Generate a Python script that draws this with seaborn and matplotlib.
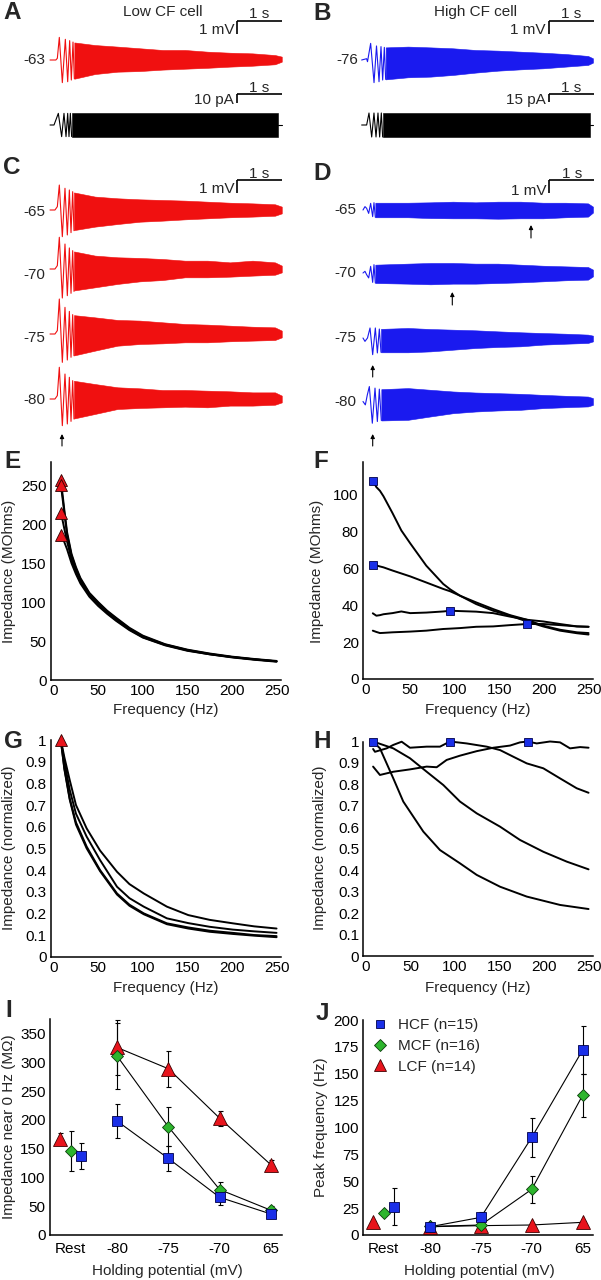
import numpy as np
import matplotlib
matplotlib.use("Agg")
import matplotlib.pyplot as plt
from matplotlib.lines import Line2D
import seaborn as sns

# ======================= DATA =======================
# ---- A / B : voltage response (s, mV) ----
A_early_t = [0, 0.13, 0.163, 0.207, 0.274, 0.341, 0.393, 0.437, 0.474, 0.511, 0.541]
A_early_v = [0, 0, 0.13, 1.74, -1.74, 1.59, -1.67, 1.49, -1.54, 1.38, -1.44]
A_env_t = [0.541, 1.0, 1.5, 2.0, 2.5, 3.0, 3.5, 4.0, 4.5, 5.0, 5.15]
A_env_hi = [1.35, 1.15, 1.03, 0.9, 0.77, 0.77, 0.64, 0.56, 0.51, 0.38, 0.26]
A_env_lo = [-1.44, -1.08, -0.9, -0.85, -0.74, -0.67, -0.6, -0.51, -0.44, -0.33, -0.13]

B_early_t = [-0.03, 0.08, 0.1, 0.17, 0.245, 0.3, 0.356, 0.4, 0.437, 0.474, 0.504]
B_early_v = [0, 0.1, -0.13, 1.28, -1.74, 1.08, -1.67, 1.03, -1.54, 0.97, -1.49]
B_env_t = [0.504, 1.0, 1.5, 2.0, 2.5, 3.0, 3.5, 4.0, 4.5, 5.0, 5.11]
B_env_hi = [0.97, 1.03, 0.97, 0.9, 0.77, 0.72, 0.64, 0.56, 0.46, 0.31, 0.13]
B_env_lo = [-1.49, -1.33, -1.28, -1.15, -0.97, -0.82, -0.72, -0.64, -0.51, -0.38, -0.2]

# ---- A / B : injected current (s, pA) ----
AI_early_t = [0, 0.089, 0.185, 0.259, 0.311, 0.356, 0.393, 0.422, 0.452, 0.481]
AI_early_v = [0, 0, 12.5, -12.5, 12.5, -12.5, 12.5, -12.5, 12.5, -12.5]
AI_env_t = [0.481, 5.06]
AI_env_hi = [12.5, 12.5]
AI_env_lo = [-12.5, -12.5]
AI_tail_t = [5.06, 5.15]

BI_early_t = [-0.03, 0.081, 0.133, 0.193, 0.244, 0.289, 0.333, 0.37, 0.407, 0.437]
BI_early_v = [0, 0, 23.5, -23.5, 23.5, -23.5, 23.5, -23.5, 23.5, -23.5]
BI_env_t = [0.437, 5.04]
BI_env_hi = [23.5, 23.5]
BI_env_lo = [-23.5, -23.5]
BI_tail_t = [5.04, 5.11]

# ---- C : low CF cell at four holding potentials ----
C_labels = ['-65', '-70', '-75', '-80']
C_early_t = [0, 0.11, 0.163, 0.207, 0.274, 0.333, 0.385, 0.43, 0.467, 0.504, 0.533]
C_early_v = [
    [0, 0, 0.26, 1.92, -2.05, 1.67, -1.92, 1.54, -1.74, 1.41, -1.59],
    [0, 0, 0.26, 2.44, -2.23, 1.92, -2.05, 1.62, -1.87, 1.41, -1.72],
    [0, 0, 0.26, 2.69, -2.18, 2.05, -2.0, 1.74, -1.79, 1.49, -1.67],
    [0, 0, 0.26, 2.44, -2.05, 1.92, -1.92, 1.67, -1.72, 1.41, -1.54]]
C_env_t = [0.533, 1.0, 1.5, 2.0, 2.5, 3.0, 3.5, 4.0, 4.5, 5.0, 5.15]
C_env_hi = [
    [1.35, 1.03, 0.9, 0.82, 0.77, 0.72, 0.64, 0.56, 0.51, 0.44, 0.26],
    [1.35, 1.03, 0.9, 0.85, 0.77, 0.64, 0.64, 0.51, 0.64, 0.51, 0.26],
    [1.45, 1.28, 1.08, 1.03, 0.9, 0.77, 0.72, 0.64, 0.56, 0.51, 0.26],
    [1.4, 1.15, 0.9, 0.82, 0.69, 0.69, 0.64, 0.59, 0.51, 0.51, 0.26]]
C_env_lo = [
    [-1.55, -1.28, -1.08, -0.9, -0.82, -0.72, -0.64, -0.56, -0.51, -0.44, -0.26],
    [-1.65, -1.41, -1.15, -0.95, -0.85, -0.64, -0.64, -0.59, -0.51, -0.44, -0.26],
    [-1.65, -1.28, -0.9, -0.77, -0.72, -0.64, -0.64, -0.56, -0.51, -0.46, -0.26],
    [-1.5, -1.15, -0.77, -0.69, -0.64, -0.59, -0.64, -0.51, -0.51, -0.44, -0.26]]

# ---- D : high CF cell at four holding potentials ----
D_labels = ['-65', '-70', '-75', '-80']
D_early_t = [
    [0, 0.044, 0.081, 0.126, 0.17, 0.215, 0.244, 0.274],
    [0, 0.044, 0.081, 0.126, 0.17, 0.215, 0.244, 0.274],
    [0, 0.044, 0.10, 0.156, 0.215, 0.274, 0.319, 0.363, 0.4],
    [0, 0.052, 0.096, 0.141, 0.207, 0.267, 0.319, 0.363, 0.407]]
D_early_v = [
    [0, 0.26, 0.13, -0.26, 0.51, -0.51, 0.56, -0.56],
    [0, 0.13, -0.13, -0.38, 0.51, -0.72, 0.64, -0.77],
    [0, -0.26, 0.0, 0.77, -1.28, 0.77, -1.15, 0.69, -1.1],
    [0, -0.26, 0.51, 1.15, -1.67, 1.03, -1.54, 0.95, -1.46]]
D_env_t = [
    [0.274, 1.0, 1.5, 2.0, 2.5, 3.0, 3.5, 4.0, 4.5, 5.0, 5.11],
    [0.274, 1.0, 1.5, 2.0, 2.5, 3.0, 3.5, 4.0, 4.5, 5.0, 5.11],
    [0.4, 1.0, 1.5, 2.0, 2.5, 3.0, 3.5, 4.0, 4.5, 5.0, 5.11],
    [0.407, 1.0, 1.5, 2.0, 2.5, 3.0, 3.5, 4.0, 4.5, 5.0, 5.11]]
D_env_hi = [
    [0.56, 0.56, 0.59, 0.64, 0.59, 0.64, 0.64, 0.56, 0.56, 0.51, 0.26],
    [0.64, 0.72, 0.77, 0.77, 0.72, 0.72, 0.64, 0.56, 0.51, 0.46, 0.26],
    [0.7, 0.77, 0.69, 0.64, 0.59, 0.51, 0.44, 0.38, 0.33, 0.26, 0.18],
    [0.95, 1.03, 0.9, 0.77, 0.69, 0.64, 0.59, 0.51, 0.44, 0.38, 0.26]]
D_env_lo = [
    [-0.56, -0.56, -0.62, -0.64, -0.64, -0.67, -0.64, -0.64, -0.56, -0.51, -0.2],
    [-0.77, -0.82, -0.87, -0.82, -0.82, -0.77, -0.72, -0.64, -0.56, -0.51, -0.26],
    [-1.1, -1.1, -1.03, -0.9, -0.77, -0.69, -0.64, -0.51, -0.44, -0.38, -0.26],
    [-1.46, -1.41, -1.15, -0.9, -0.77, -0.69, -0.64, -0.51, -0.44, -0.38, -0.26]]

# ---- E : low CF impedance (MOhm) ----
E_freq = [8, 10, 12, 15, 20, 25, 30, 40, 50, 60, 70, 85, 100, 125, 150, 175, 200, 225, 250]
E_curves = [
    [257, 238, 218, 190, 162, 145, 131, 112, 100, 89, 80, 67, 57, 46, 39, 34, 30, 27, 24.5],
    [251, 233, 214, 187, 160, 143, 129, 111, 99, 88, 79, 66, 56, 45.5, 38.5, 33.5, 29.5, 26.5, 24],
    [214, 205, 194, 178, 155, 139, 126, 109, 97, 86, 77, 65, 55, 45, 38, 33, 29.5, 26.5, 24],
    [186, 182, 177, 168, 150, 136, 124, 107, 95, 85, 76, 64, 54.5, 44.5, 37.5, 33, 29, 26, 23.5]]
E_peak_f = [8, 8, 8, 8]
E_peak_z = [257, 251, 214, 186]

# ---- F : high CF impedance (MOhm) ----
F_freq = [8, 12, 16, 20, 30, 40, 50, 68, 87, 95, 106, 124, 143, 162, 181, 199, 218, 237, 250]
F_curves = [
    [107.5, 104, 102, 99, 90, 80.5, 73.5, 61.4, 51.5, 48.5, 45.1, 40.6, 37, 34.3, 31.2, 28.5, 26.2, 24.8, 24.1],
    [62, 61.5, 61, 60.5, 58.8, 57.2, 55.6, 52.3, 48.8, 47.5, 45.1, 41.5, 37.9, 34.6, 32.1, 28.9, 26.7, 25.3, 24.9],
    [35.6, 34.3, 34.6, 35.1, 35.7, 36.6, 35.7, 36.0, 36.6, 37.0, 36.8, 36.5, 35.7, 33.8, 32.1, 31.2, 29.8, 28.5, 28.3],
    [26.2, 25.5, 24.9, 25.0, 25.3, 25.5, 25.7, 26.2, 27.1, 27.3, 27.6, 28.3, 28.5, 29.2, 29.8, 29.8, 29.2, 28.5, 28.3]]
F_peak_f = [8, 8, 95, 181]
F_peak_z = [107.5, 62, 37.0, 29.8]

# ---- G : low CF normalized impedance ----
G_freq = [8, 12, 18, 25, 37, 52, 71, 85, 101, 127, 151, 175, 201, 225, 250]
G_curves = [
    [1.0, 0.92, 0.815, 0.70, 0.592, 0.49, 0.392, 0.335, 0.292, 0.231, 0.192, 0.17, 0.154, 0.14, 0.13],
    [1.0, 0.90, 0.77, 0.66, 0.554, 0.446, 0.323, 0.27, 0.231, 0.177, 0.155, 0.138, 0.125, 0.117, 0.11],
    [1.0, 0.87, 0.73, 0.62, 0.508, 0.40, 0.292, 0.24, 0.20, 0.154, 0.135, 0.12, 0.11, 0.10, 0.095],
    [1.0, 0.865, 0.725, 0.61, 0.50, 0.395, 0.287, 0.235, 0.196, 0.15, 0.13, 0.115, 0.105, 0.097, 0.09]]
G_peak_f = [8]
G_peak_z = [1.0]

# ---- H : high CF normalized impedance ----
H_freqs = [
    [8, 15.7, 30.7, 41.9, 64.4, 83.1, 105.6, 124.4, 150.6, 180.6, 218, 250],
    [8, 30.7, 49.4, 68.2, 86.9, 105.6, 124.4, 150.6, 173, 199.2, 225.5, 250],
    [8, 10.1, 23.2, 30.7, 40.1, 49.4, 68.2, 83.1, 94.4, 113.1, 135.6, 150.6, 165.5, 180.6, 199.2, 218, 236.7, 250],
    [8, 15.7, 30.7, 49.4, 68.2, 79.4, 90.6, 105.6, 124.4, 143.1, 161.8, 173, 181.6, 191.8, 206.7, 218, 229.2, 240.5, 250]]
H_curves = [
    [1.0, 0.968, 0.828, 0.72, 0.58, 0.494, 0.432, 0.378, 0.323, 0.277, 0.238, 0.219],
    [1.0, 0.968, 0.922, 0.859, 0.797, 0.72, 0.665, 0.603, 0.541, 0.486, 0.44, 0.404],
    [0.965, 0.952, 0.968, 0.984, 0.999, 0.971, 0.976, 0.976, 1.0, 0.991, 0.976, 0.96, 0.929, 0.898, 0.875, 0.828, 0.782, 0.761],
    [0.883, 0.844, 0.859, 0.87, 0.883, 0.88, 0.914, 0.934, 0.955, 0.971, 0.981, 0.996, 1.0, 0.991, 1.0, 0.996, 0.968, 0.974, 0.971]]
H_peak_f = [8, 94.4, 181.6]
H_peak_z = [1.0, 1.0, 1.0]

# ---- I / J : population data ----
cats = ['Rest', '-80', '-75', '-70', '65']
I_LCF = [167, 326, 289, 203, 122]
I_LCF_err = [10, 47, 31, 13, 9]
I_MCF = [146, 311, 188, 79, 43]
I_MCF_err = [35, 58, 34, 13, 8]
I_HCF = [137, 198, 133, 65.5, 36.5]
I_HCF_err = [23, 29, 22, 13, 7]

J_HCF = [26.3, 7.7, 16.4, 90.8, 172]
J_HCF_err = [17, 3, 5, 18, 22]
J_MCF = [20.2, 8, 9.3, 42.5, 130]
J_MCF_err = [2, 3, 3, 12.6, 20]
J_LCF = [11.8, 7.7, 8.7, 9.3, 11.8]
J_LCF_err = [1, 1, 1, 1, 1]
legend_labels = ['HCF (n=15)', 'MCF (n=16)', 'LCF (n=14)']

# ======================= STYLE =======================
sns.set_style('white')
plt.rcParams['font.family'] = ['Liberation Sans', 'DejaVu Sans']
FS = 11
plt.rcParams['font.size'] = FS

RED_TR = '#f01010'
BLUE_TR = '#1a1aef'
RED_M = '#e8141c'
BLUE_M = '#1a2fe8'
GREEN_M = '#2db52d'

W, H = 601, 1280
fig = plt.figure(figsize=(W / 100, H / 100), dpi=100)


def px_axes(x0, y0, x1, y1):
    return fig.add_axes([x0 / W, 1 - y1 / H, (x1 - x0) / W, (y1 - y0) / H])


def ftext(x, y, s, **kw):
    fig.text(x / W, 1 - y / H, s, **kw)


PPS = 45.0  # px per second


class TAx:
    def __init__(self, x0, y0, x1, y1, t0px, basepx, ppv):
        self.ax = px_axes(x0, y0, x1, y1)
        self.ax.set_xlim((x0 - t0px) / PPS, (x1 - t0px) / PPS)
        self.ax.set_ylim((basepx - y1) / ppv, (basepx - y0) / ppv)
        self.ax.axis('off')
        self.t0px, self.base, self.ppv = t0px, basepx, ppv

    def vy(self, ypx):
        return (self.base - ypx) / self.ppv

    def tx(self, xpx):
        return (xpx - self.t0px) / PPS


def draw_trace(T, et, ev, nt, nhi, nlo, off, color, lw=0.8):
    sns.lineplot(x=list(et), y=list(np.asarray(ev, float) + off), ax=T.ax, color=color,
                 linewidth=lw, estimator=None, sort=False)
    T.ax.fill_between(nt, np.asarray(nlo, float) + off, np.asarray(nhi, float) + off,
                      color=color, linewidth=0.4)


def scalebar(T, xpx, ypx, vlen, vlabel, lab_dy=9):
    tb = T.tx(xpx)
    yb = T.vy(ypx)
    T.ax.plot([tb, tb + 1], [yb, yb], color='k', lw=1.2, solid_capstyle='butt', clip_on=False)
    T.ax.plot([tb, tb], [yb, yb - vlen], color='k', lw=1.2, solid_capstyle='butt', clip_on=False)
    T.ax.text(tb + 0.5, T.vy(ypx - 2.4), '1 s', ha='center', va='baseline', fontsize=FS)
    T.ax.text(tb - 3 / PPS, T.vy(ypx + lab_dy), vlabel, ha='right', va='center', fontsize=FS)


def arrow(T, t, tip_px, tail_px):
    T.ax.annotate('', xy=(t, T.vy(tip_px)), xytext=(t, T.vy(tail_px)),
                  arrowprops=dict(arrowstyle='-|>', color='k', lw=0.8, mutation_scale=6,
                                  shrinkA=0, shrinkB=0), annotation_clip=False)


# ======================= A =======================
TA = TAx(0, 0, 300, 92, 50, 60, 13.0)
draw_trace(TA, A_early_t, A_early_v, A_env_t, A_env_hi, A_env_lo, 0, RED_TR)
TA.ax.text(TA.tx(45), 0, '-63', ha='right', va='center', fontsize=FS)
scalebar(TA, 237, 20.7, 1, '1 mV')

TAI = TAx(0, 84, 300, 150, 50, 125, 0.93)
draw_trace(TAI, AI_early_t, AI_early_v, AI_env_t, AI_env_hi, AI_env_lo, 0, 'k')
sns.lineplot(x=AI_tail_t, y=[0, 0], ax=TAI.ax, color='k', linewidth=0.8)
scalebar(TAI, 237, 94, 10, '10 pA', lab_dy=6)

# ======================= B =======================
TB = TAx(300, 0, 601, 92, 363, 60, 13.0)
draw_trace(TB, B_early_t, B_early_v, B_env_t, B_env_hi, B_env_lo, 0, BLUE_TR)
TB.ax.text(TB.tx(358.3), 0, '-76', ha='right', va='center', fontsize=FS)
scalebar(TB, 548.5, 20.7, 1, '1 mV')

TBI = TAx(300, 84, 601, 150, 363, 125, 0.51)
draw_trace(TBI, BI_early_t, BI_early_v, BI_env_t, BI_env_hi, BI_env_lo, 0, 'k')
sns.lineplot(x=BI_tail_t, y=[0, 0], ax=TBI.ax, color='k', linewidth=0.8)
scalebar(TBI, 548.5, 94, 15, '15 pA', lab_dy=6)

# ======================= C =======================
C_row_px = [210, 269, 334, 399]
C_lab_px = [212, 275, 338, 400]
TC = TAx(0, 160, 300, 452, 50, 210, 13.0)
for i in range(4):
    off = TC.vy(C_row_px[i])
    draw_trace(TC, C_early_t, C_early_v[i], C_env_t, C_env_hi[i], C_env_lo[i], off, RED_TR)
    TC.ax.text(TC.tx(45), TC.vy(C_lab_px[i]), C_labels[i], ha='right', va='center', fontsize=FS)
scalebar(TC, 237, 180, 1, '1 mV')
arrow(TC, TC.tx(62), 434, 446)

# ======================= D =======================
D_row_px = [210, 273, 338, 401.5]
TD = TAx(300, 160, 601, 452, 363, 210, 13.0)
for i in range(4):
    off = TD.vy(D_row_px[i])
    draw_trace(TD, D_early_t[i], D_early_v[i], D_env_t[i], D_env_hi[i], D_env_lo[i], off, BLUE_TR)
    TD.ax.text(TD.tx(356.7), off, D_labels[i], ha='right', va='center', fontsize=FS)
scalebar(TD, 549.3, 180, 1, '1 mV', lab_dy=11)
arrow(TD, TD.tx(531), 225, 238)
arrow(TD, TD.tx(452.3), 292, 305)
arrow(TD, TD.tx(372.7), 365, 377)
arrow(TD, TD.tx(372.7), 434, 446)


# ======================= E-H =======================
def style_axes(ax, xpad=3, ypad=3):
    sns.despine(ax=ax)
    for s in ['left', 'bottom']:
        ax.spines[s].set_linewidth(1.1)
        ax.spines[s].set_color('k')
    ax.tick_params(direction='in', length=3, width=0.8, labelsize=FS, colors='k')
    ax.tick_params(axis='x', pad=xpad)
    ax.tick_params(axis='y', pad=ypad)
    ax.set_facecolor('none')
    ax.grid(False)


def curve_panel(rect, freqs, curves, pf, pz, marker, mcolor, ms, ylim, yticks, ylabels):
    ax = px_axes(*rect)
    for i, c in enumerate(curves):
        f = freqs[i] if isinstance(freqs[0], list) else freqs
        sns.lineplot(x=f, y=c, ax=ax, color='k', linewidth=1.4, estimator=None, sort=False)
    for ln in ax.lines:
        ln.set_clip_on(False)
    ax.plot(pf, pz, linestyle='none', marker=marker, ms=ms, mfc=mcolor,
            mec='#300000' if marker == '^' else '#00004a',
            mew=0.6, clip_on=False, zorder=5)
    ax.set_xlim(-3, 255)
    ax.set_ylim(*ylim)
    ax.set_xticks([0, 50, 100, 150, 200, 250])
    ax.set_yticks(yticks)
    ax.set_yticklabels(ylabels)
    ax.set_xlabel('')
    ax.set_ylabel('')
    style_axes(ax)
    return ax


curve_panel((51, 462, 281, 680), E_freq, E_curves, E_peak_f, E_peak_z, '^', RED_M, 8,
            (0, 280), [0, 50, 100, 150, 200, 250], ['0', '50', '100', '150', '200', '250'])
curve_panel((363, 462, 593, 679), F_freq, F_curves, F_peak_f, F_peak_z, 's', BLUE_M, 6,
            (0, 117.6), [0, 20, 40, 60, 80, 100], ['0', '20', '40', '60', '80', '100'])
nt = [0, 0.1, 0.2, 0.3, 0.4, 0.5, 0.6, 0.7, 0.8, 0.9, 1.0]
nl = ['0', '0.1', '0.2', '0.3', '0.4', '0.5', '0.6', '0.7', '0.8', '0.9', '1']
curve_panel((51, 740, 281, 956.7), G_freq, G_curves, G_peak_f, G_peak_z, '^', RED_M, 9,
            (0, 1.0), nt, nl)
curve_panel((363.3, 741.5, 593, 956), H_freqs, H_curves, H_peak_f, H_peak_z, 's', BLUE_M, 6,
            (0, 1.0), nt, nl)

# ======================= I / J =======================
cat_pos = np.array([0.09, 1, 2, 3, 4])
rest_shift = {'LCF': -0.2, 'MCF': 0.0, 'HCF': 0.21}
series_style = {
    'LCF': dict(marker='^', mfc=RED_M, mec='#400000', ms=9.5),
    'MCF': dict(marker='D', mfc=GREEN_M, mec='#0a3a0a', ms=6.5),
    'HCF': dict(marker='s', mfc=BLUE_M, mec='#00004a', ms=7),
}


def pop_panel(rect, data, ylim, yticks):
    ax = px_axes(*rect)
    for name in ['LCF', 'MCF', 'HCF']:
        vals, errs = data[name]
        x = cat_pos.copy()
        x[0] += rest_shift[name]
        sns.lineplot(x=list(x[1:]), y=list(vals[1:]), ax=ax, color='k', linewidth=0.8,
                     estimator=None, sort=False)
    for name in ['LCF', 'MCF', 'HCF']:
        vals, errs = data[name]
        x = cat_pos.copy()
        x[0] += rest_shift[name]
        ax.errorbar(x, vals, yerr=errs, fmt='none', ecolor='k', elinewidth=0.8, capsize=1.8,
                    capthick=0.8, zorder=3)
        st = series_style[name]
        ax.plot(x, vals, linestyle='none', marker=st['marker'], ms=st['ms'], mfc=st['mfc'],
                mec=st['mec'], mew=0.6, zorder=4, clip_on=False)
    ax.set_xlim(-0.31, 4.21)
    ax.set_ylim(*ylim)
    ax.set_xticks(cat_pos)
    ax.set_xticklabels(cats)
    ax.set_yticks(yticks)
    ax.set_xlabel('')
    ax.set_ylabel('')
    style_axes(ax, xpad=5)
    return ax


pop_panel((50, 1019.3, 281.7, 1235),
          {'LCF': (I_LCF, I_LCF_err), 'MCF': (I_MCF, I_MCF_err), 'HCF': (I_HCF, I_HCF_err)},
          (0, 375), [0, 50, 100, 150, 200, 250, 300, 350])
axJ = pop_panel((363.3, 1020, 593.3, 1235),
                {'LCF': (J_LCF, J_LCF_err), 'MCF': (J_MCF, J_MCF_err), 'HCF': (J_HCF, J_HCF_err)},
                (0, 200), [0, 25, 50, 75, 100, 125, 150, 175, 200])
handles = []
for name in ['HCF', 'MCF', 'LCF']:
    st = series_style[name]
    handles.append(Line2D([], [], linestyle='none', marker=st['marker'], ms=st['ms'] * 0.9,
                          mfc=st['mfc'], mec=st['mec'], mew=0.6))
fig.legend(handles, legend_labels, loc='upper left', bbox_to_anchor=(373 / W, 1 - 1018 / H),
           frameon=False, fontsize=FS, handlelength=0.95, handletextpad=0.7, labelspacing=0.45,
           borderpad=0, borderaxespad=0)

# ======================= TEXT =======================
ftext(163, 12, 'Low CF cell', ha='center', va='center', fontsize=FS)
ftext(475, 12, 'High CF cell', ha='center', va='center', fontsize=FS)

for letter, x, y in [('A', 3, 1), ('B', 313, 2), ('C', 3, 156), ('D', 313, 162),
                     ('E', 4, 450), ('F', 313, 450), ('G', 4, 730), ('H', 313, 730),
                     ('I', 5, 999), ('J', 316, 1002)]:
    ftext(x, y, letter, ha='left', va='top', fontsize=17.5, fontweight='bold')

for x in [166, 478]:
    ftext(x, 710, 'Frequency (Hz)', ha='center', va='center', fontsize=FS)
    ftext(x, 988, 'Frequency (Hz)', ha='center', va='center', fontsize=FS)
    ftext(x + 1, 1271, 'Holding potential (mV)', ha='center', va='center', fontsize=FS)

ftext(9, 571, 'Impedance (MOhms)', ha='center', va='center', rotation=90, fontsize=FS)
ftext(317, 571, 'Impedance (MOhms)', ha='center', va='center', rotation=90, fontsize=FS)
ftext(9, 848, 'Impedance (normalized)', ha='center', va='center', rotation=90, fontsize=FS)
ftext(320, 848, 'Impedance (normalized)', ha='center', va='center', rotation=90, fontsize=FS)
ftext(9, 1127, 'Impedance near 0 Hz (M\u03a9)', ha='center', va='center', rotation=90, fontsize=FS)
ftext(321, 1127, 'Peak frequency (Hz)', ha='center', va='center', rotation=90, fontsize=FS)

fig.savefig('out.png', dpi=100, facecolor='white')
